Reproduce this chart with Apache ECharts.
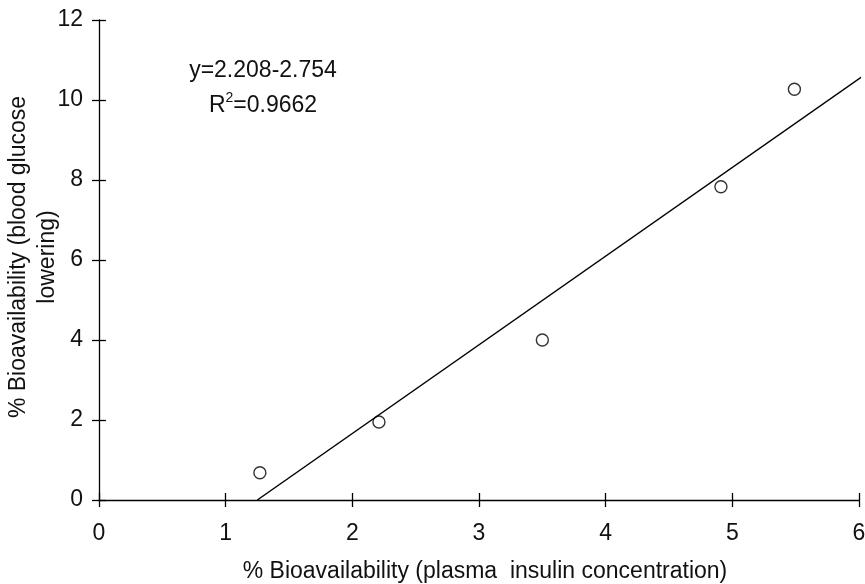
<!DOCTYPE html>
<html>
<head>
<meta charset="utf-8">
<script src="https://cdn.jsdelivr.net/npm/echarts@6/dist/echarts.min.js"></script>
<style>html,body{margin:0;padding:0;background:#fff;}#c{width:865px;height:584px;}</style>
</head>
<body>
<div id="c"></div>
<script>
var xTicks = [0, 1, 2, 3, 4, 5, 6];
var yTicks = [0, 2, 4, 6, 8, 10, 12];
var pointX = [1.27, 2.21, 3.5, 4.91, 5.49];
var pointY = [0.68, 1.95, 4.0, 7.83, 10.27];
var fitX = [1.25, 6.04];
var fitY = [0, 10.62];
var eqLine = 'y=2.208-2.754';
var r2Value = '0.9662';
var xTitle = '% Bioavailability (plasma  insulin concentration)';
var yTitle = '% Bioavailability (blood glucose\nlowering)';

var font = 'Liberation Sans, Arial, sans-serif';
var FS = 23;
var chart = echarts.init(document.getElementById('c'), null, {renderer: 'canvas'});
var pts = pointX.map(function (x, i) { return [x, pointY[i]]; });
var fit = fitX.map(function (x, i) { return [x, fitY[i]]; });

var baseX = {
  type: 'value', min: xTicks[0], max: xTicks[xTicks.length - 1], interval: 1,
  splitLine: {show: false}
};
var baseY = {
  type: 'value', min: yTicks[0], max: yTicks[yTicks.length - 1], interval: 2,
  splitLine: {show: false}
};

chart.setOption({
  backgroundColor: '#fff',
  animation: false,
  grid: {left: 99, right: 6, top: 20, bottom: 84, containLabel: false, outerBoundsMode: 'none'},
  xAxis: [
    Object.assign({}, baseX, {
      position: 'bottom',
      axisLine: {show: true, onZero: false, lineStyle: {color: '#000', width: 1.3}},
      axisTick: {show: true, inside: false, length: 7, lineStyle: {color: '#000', width: 1.3}},
      axisLabel: {color: '#111', fontSize: FS, fontFamily: font, margin: 22},
      name: xTitle, nameLocation: 'middle', nameGap: 60,
      nameTextStyle: {color: '#111', fontSize: FS, fontFamily: font, padding: [0, 0, 0, 12]}
    }),
    Object.assign({}, baseX, {
      position: 'bottom',
      axisLine: {show: false, onZero: false},
      axisTick: {show: true, inside: true, length: 7, lineStyle: {color: '#000', width: 1.3}},
      axisLabel: {show: false}
    })
  ],
  yAxis: [
    Object.assign({}, baseY, {
      position: 'left',
      axisLine: {show: true, onZero: false, lineStyle: {color: '#000', width: 1.3}},
      axisTick: {show: true, inside: false, length: 7, lineStyle: {color: '#000', width: 1.3}},
      axisLabel: {color: '#111', fontSize: FS, fontFamily: font, margin: 16}
    }),
    Object.assign({}, baseY, {
      position: 'left',
      axisLine: {show: false, onZero: false},
      axisTick: {show: true, inside: true, length: 7, lineStyle: {color: '#000', width: 1.3}},
      axisLabel: {show: false}
    })
  ],
  series: [
    {
      type: 'line', data: fit, xAxisIndex: 0, yAxisIndex: 0,
      showSymbol: false, symbol: 'none', clip: false,
      lineStyle: {color: '#000', width: 1.5}
    },
    {
      type: 'scatter', data: pts, xAxisIndex: 0, yAxisIndex: 0,
      symbol: 'circle', symbolSize: 12,
      itemStyle: {color: '#fff', borderColor: '#000', borderWidth: 1.4}
    }
  ],
  graphic: [
    {
      type: 'text', x: 33, y: 257, rotation: Math.PI / 2,
      style: {text: yTitle, fontSize: FS, fontFamily: font, fill: '#111', align: 'center', verticalAlign: 'middle', lineHeight: 29}
    },
    {
      type: 'text', x: 263, y: 71,
      style: {text: eqLine, fontSize: FS, fontFamily: font, fill: '#111', align: 'center', verticalAlign: 'middle'}
    },
    {
      type: 'text', x: 263, y: 104,
      style: {
        text: '{n|R}{s|2}{n|=' + r2Value + '}',
        align: 'center', verticalAlign: 'middle',
        rich: {
          n: {fontSize: FS, fontFamily: font, fill: '#111', verticalAlign: 'bottom', lineHeight: 26},
          s: {fontSize: 14, fontFamily: font, fill: '#111', verticalAlign: 'top', lineHeight: 14, padding: [0, 0, 12, 0]}
        }
      }
    }
  ]
});
</script>
</body>
</html>
